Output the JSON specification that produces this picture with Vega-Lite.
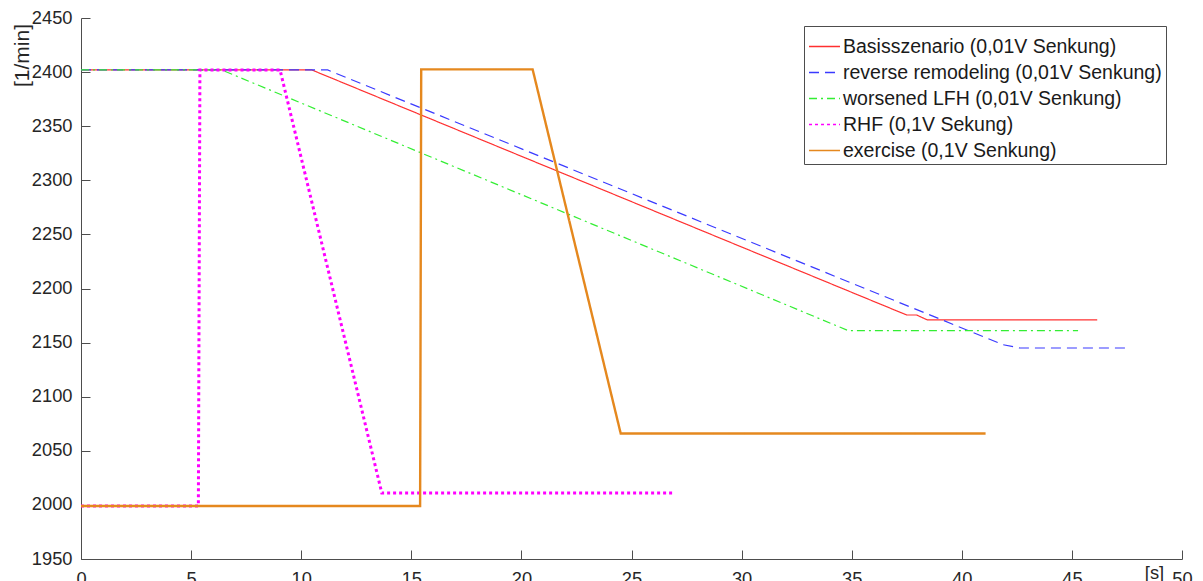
{
  "$schema": "https://vega.github.io/schema/vega-lite/v6.json",
  "width": 1101,
  "height": 541,
  "autosize": {"type": "none"},
  "padding": {"left": 81, "top": 18, "right": 21, "bottom": 22},
  "background": "white",
  "config": {
    "view": {"stroke": null},
    "font": "Liberation Sans",
    "axis": {
      "grid": false,
      "domainColor": "#4d4d4d",
      "tickColor": "#4d4d4d",
      "labelColor": "#262626",
      "titleColor": "#262626",
      "labelFont": "Liberation Sans",
      "titleFont": "Liberation Sans",
      "labelFontSize": 18.3,
      "titleFontSize": 18.3,
      "titleFontWeight": "normal",
      "tickSize": -9,
      "labelOverlap": false,
      "labelFlush": false
    }
  },
  "data": {
    "values": [
      {"s": "Basisszenario (0,01V Senkung)", "i": 0, "t": 0, "v": 2402},
      {"s": "Basisszenario (0,01V Senkung)", "i": 1, "t": 10.48, "v": 2402},
      {"s": "Basisszenario (0,01V Senkung)", "i": 2, "t": 37.5, "v": 2175.5},
      {"s": "Basisszenario (0,01V Senkung)", "i": 3, "t": 37.95, "v": 2175.5},
      {"s": "Basisszenario (0,01V Senkung)", "i": 4, "t": 38.43, "v": 2171},
      {"s": "Basisszenario (0,01V Senkung)", "i": 5, "t": 46.15, "v": 2171},
      {"s": "reverse remodeling (0,01V Senkung)", "i": 0, "t": 0, "v": 2402},
      {"s": "reverse remodeling (0,01V Senkung)", "i": 1, "t": 11.2, "v": 2402},
      {"s": "reverse remodeling (0,01V Senkung)", "i": 2, "t": 41.88, "v": 2148},
      {"s": "reverse remodeling (0,01V Senkung)", "i": 3, "t": 42.64, "v": 2145},
      {"s": "reverse remodeling (0,01V Senkung)", "i": 4, "t": 47.5, "v": 2145},
      {"s": "worsened LFH (0,01V Senkung)", "i": 0, "t": 0, "v": 2402},
      {"s": "worsened LFH (0,01V Senkung)", "i": 1, "t": 6.39, "v": 2402},
      {"s": "worsened LFH (0,01V Senkung)", "i": 2, "t": 34.85, "v": 2161},
      {"s": "worsened LFH (0,01V Senkung)", "i": 3, "t": 45.28, "v": 2161},
      {"s": "RHF (0,1V Sekung)", "i": 0, "t": 0, "v": 1999},
      {"s": "RHF (0,1V Sekung)", "i": 1, "t": 5.33, "v": 1999},
      {"s": "RHF (0,1V Sekung)", "i": 2, "t": 5.4, "v": 2402},
      {"s": "RHF (0,1V Sekung)", "i": 3, "t": 9.04, "v": 2402},
      {"s": "RHF (0,1V Sekung)", "i": 4, "t": 13.66, "v": 2011},
      {"s": "RHF (0,1V Sekung)", "i": 5, "t": 26.98, "v": 2011},
      {"s": "exercise (0,1V Senkung)", "i": 0, "t": 0, "v": 1999},
      {"s": "exercise (0,1V Senkung)", "i": 1, "t": 15.4, "v": 1999},
      {"s": "exercise (0,1V Senkung)", "i": 2, "t": 15.45, "v": 2402.5},
      {"s": "exercise (0,1V Senkung)", "i": 3, "t": 20.51, "v": 2402.5},
      {"s": "exercise (0,1V Senkung)", "i": 4, "t": 24.51, "v": 2066},
      {"s": "exercise (0,1V Senkung)", "i": 5, "t": 41.08, "v": 2066}
    ]
  },
  "mark": {"type": "line", "strokeCap": "butt", "strokeJoin": "miter", "clip": true},
  "encoding": {
    "x": {
      "field": "t",
      "type": "quantitative",
      "scale": {"domain": [0, 50], "nice": false, "zero": false},
      "axis": {
        "values": [0, 5, 10, 15, 20, 25, 30, 35, 40, 45, 50],
        "format": "d",
        "labelPadding": 20,
        "title": "[s]",
        "titleX": 1073,
        "titleY": 5,
        "titleAnchor": null,
        "titleAlign": "center",
        "titleBaseline": "top"
      }
    },
    "y": {
      "field": "v",
      "type": "quantitative",
      "scale": {"domain": [1950, 2450], "nice": false, "zero": false},
      "axis": {
        "values": [1950, 2000, 2050, 2100, 2150, 2200, 2250, 2300, 2350, 2400, 2450],
        "format": "d",
        "labelPadding": 18,
        "title": "[1/min]",
        "titleFontSize": 21,
        "titleX": -59,
        "titleY": 37,
        "titleAngle": -90,
        "titleAlign": "center",
        "titleBaseline": "middle"
      }
    },
    "order": {"field": "i", "type": "quantitative"},
    "color": {
      "field": "s",
      "type": "nominal",
      "title": null,
      "scale": {
        "domain": ["Basisszenario (0,01V Senkung)", "reverse remodeling (0,01V Senkung)", "worsened LFH (0,01V Senkung)", "RHF (0,1V Sekung)", "exercise (0,1V Senkung)"],
        "range": ["#ff3030", "#3a3aff", "#33ee33", "#ff00ff", "#e5881e"]
      },
      "legend": {
        "orient": "none",
        "legendX": 723,
        "legendY": 8,
        "direction": "vertical",
        "symbolType": "stroke",
        "symbolSize": 961,
        "symbolStrokeWidth": 1.5,
        "labelOffset": 2,
        "labelFont": "Liberation Sans",
        "labelFontSize": 19.5,
        "labelColor": "#1a1a1a",
        "labelLimit": 500,
        "rowPadding": 0,
        "padding": 4,
        "strokeColor": "#4d4d4d",
        "fillColor": "white"
      }
    },
    "strokeDash": {
      "field": "s",
      "type": "nominal",
      "title": null,
      "scale": {
        "domain": ["Basisszenario (0,01V Senkung)", "reverse remodeling (0,01V Senkung)", "worsened LFH (0,01V Senkung)", "RHF (0,1V Sekung)", "exercise (0,1V Senkung)"],
        "range": [[1, 0], [10, 6], [8, 4, 2, 4], [3, 3], [1, 0]]
      }
    },
    "strokeWidth": {
      "condition": [
        {"test": "datum.s === 'RHF (0,1V Sekung)'", "value": 3},
        {"test": "datum.s === 'exercise (0,1V Senkung)'", "value": 2.4}
      ],
      "value": 1.2
    }
  }
}
